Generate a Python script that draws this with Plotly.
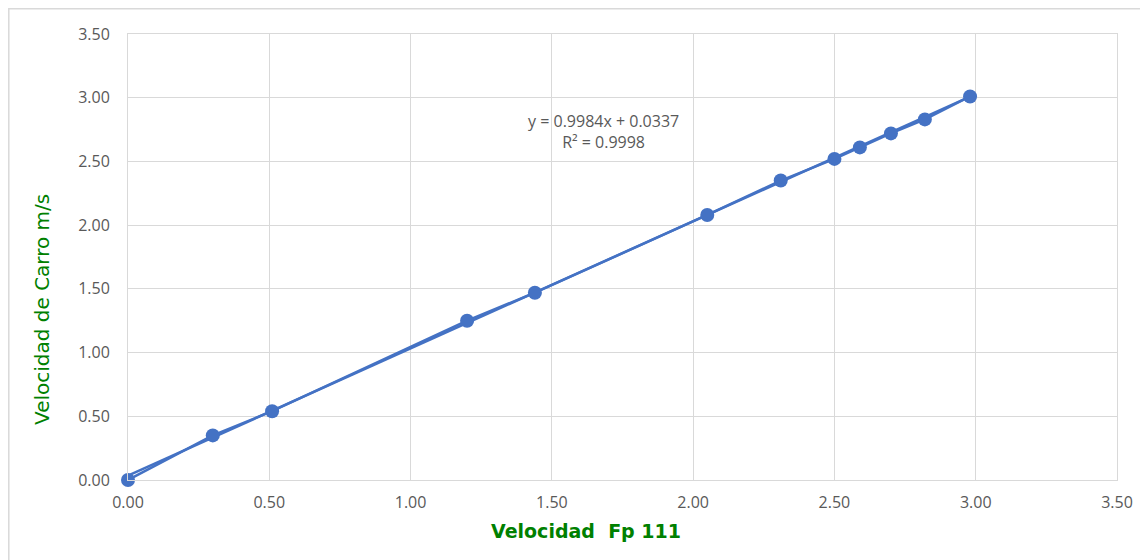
import plotly.graph_objects as go

x_vals = [0.00, 0.30, 0.51, 1.20, 1.44, 2.05, 2.31, 2.50, 2.59, 2.70, 2.82, 2.98]
y_vals = [0.00, 0.35, 0.54, 1.25, 1.47, 2.08, 2.35, 2.52, 2.61, 2.72, 2.83, 3.01]
slope = 0.9984
intercept = 0.0337
tick_vals = [0, 0.5, 1.0, 1.5, 2.0, 2.5, 3.0, 3.5]
tick_text = ["0.00", "0.50", "1.00", "1.50", "2.00", "2.50", "3.00", "3.50"]

blue = "#4472C4"
OFF = 8  # page body margin
L, R, T, B = 128 - OFF, 31, 34 - OFF, 80
W, H = 1148 - OFF, 560 - OFF
pw, ph = W - L - R, H - T - B


def px_x(px):  # page pixel -> paper x
    return (px - 128) / pw


def px_y(py):  # page pixel -> paper y
    return (480 - py) / ph


fig = go.Figure()
trend_x = [min(x_vals), max(x_vals)]
trend_y = [slope * v + intercept for v in trend_x]
fig.add_trace(go.Scatter(x=trend_x, y=trend_y, mode="lines",
                         line=dict(color=blue, width=2.5), hoverinfo="skip",
                         showlegend=False, cliponaxis=False))
fig.add_trace(go.Scatter(x=x_vals, y=y_vals, mode="lines+markers",
                         line=dict(color=blue, width=2.5),
                         marker=dict(color=blue, size=14, line=dict(width=0)),
                         showlegend=False, cliponaxis=False))

tickfont = dict(family="Open Sans, Liberation Sans, sans-serif", size=16, color="#595959")
axis_common = dict(
    range=[0, 3.5], tickvals=tick_vals, ticktext=tick_text,
    showgrid=True, gridcolor="#d9d9d9", gridwidth=1,
    zeroline=False, showline=True, linecolor="#d9d9d9", linewidth=1, mirror=True,
    ticks="", tickfont=tickfont,
)

green = "#008000"
fig.update_layout(
    width=W, height=H,
    margin=dict(l=L, r=R, t=T, b=B),
    paper_bgcolor="white", plot_bgcolor="white",
    xaxis=dict(**axis_common, ticklabelstandoff=8),
    yaxis=dict(**axis_common, ticklabelstandoff=14),
    annotations=[
        dict(x=px_x(603), y=px_y(132), xref="paper", yref="paper",
             xanchor="center", yanchor="middle",
             text="y = 0.9984x + 0.0337<br>R² = 0.9998", showarrow=False,
             font=dict(family="Open Sans, Liberation Sans, sans-serif", size=16, color="#595959"),
             align="center"),
        dict(x=px_x(586), y=px_y(531), xref="paper", yref="paper",
             xanchor="center", yanchor="middle", showarrow=False,
             text="<b>Velocidad  Fp 111</b>",
             font=dict(family="DejaVu Sans, sans-serif", size=19, color=green)),
        dict(x=px_x(42), y=px_y(310), xref="paper", yref="paper",
             xanchor="center", yanchor="middle", showarrow=False, textangle=-90,
             text="Velocidad de Carro m/s",
             font=dict(family="DejaVu Sans, sans-serif", size=20, color=green)),
    ],
    shapes=[dict(type="rect", xref="paper", yref="paper",
                 x0=px_x(8.8), x1=px_x(1160),
                 y0=px_y(570), y1=px_y(8.8),
                 line=dict(color="#d9d9d9", width=1.5), fillcolor="rgba(0,0,0,0)", layer="below")],
)

fig.write_html("out.html")
